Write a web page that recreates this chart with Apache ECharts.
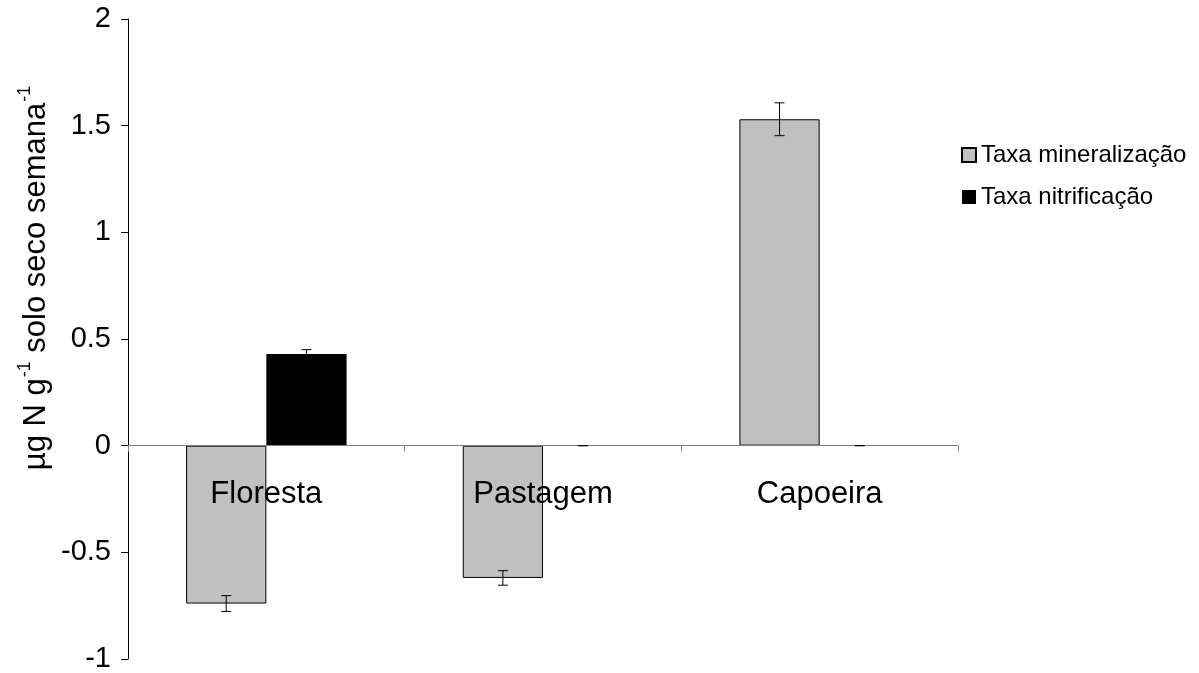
<!DOCTYPE html>
<html>
<head>
<meta charset="utf-8">
<script src="https://cdn.jsdelivr.net/npm/echarts@6/dist/echarts.min.js"></script>
<style>
  html, body { margin: 0; padding: 0; background: #fff; }
  #chart { width: 1199px; height: 673px; }
</style>
</head>
<body>
<div id="chart"></div>
<script>
// Land-use categories
const categories = ['Floresta', 'Pastagem', 'Capoeira'];

// Net mineralization rate (µg N g-1 dry soil week-1) and standard error
const mineralizacao = [-0.74, -0.62, 1.53];
const mineralizacaoErr = [0.037, 0.034, 0.077];

// Net nitrification rate and standard error
const nitrificacao = [0.43, 0, 0];
const nitrificacaoErr = [0.02, 0, 0];

const seriesNames = ['Taxa mineralização', 'Taxa nitrificação'];

const FONT = '"Liberation Sans", Arial, sans-serif';
const CAT_GAP = 0.42;   // fraction of a category left empty

const Y_MIN = -1, Y_MAX = 2;
const GRID = { left: 128, right: 241, top: 19, bottom: 14 };
const PLOT_H = 673 - GRID.top - GRID.bottom;
// the category axis sits on the zero line
const X_AXIS_OFFSET = -PLOT_H * (0 - Y_MIN) / (Y_MAX - Y_MIN);

// Error bars: data rows are [categoryIndex, value, error, groupIndex]
function errorRows(values, errs, group) {
  return values.map((v, i) => [i, v, errs[i], group]);
}

function renderError(params, api) {
  const idx = api.value(0);
  const val = api.value(1);
  const err = api.value(2);
  const group = api.value(3);
  const catW = api.size([1, 0])[0];
  const barW = catW * (1 - CAT_GAP) / 2;
  const center = api.coord([idx, val]);
  const x = center[0] + (group === 0 ? -barW / 2 : barW / 2);
  const top = api.coord([idx, val + err])[1];
  const bot = api.coord([idx, val - err])[1];
  const cap = 5;
  const style = { stroke: '#000', lineWidth: 1 };
  return {
    type: 'group',
    children: [
      { type: 'line', shape: { x1: x, y1: top, x2: x, y2: bot }, style },
      { type: 'line', shape: { x1: x - cap, y1: top, x2: x + cap, y2: top }, style },
      { type: 'line', shape: { x1: x - cap, y1: bot, x2: x + cap, y2: bot }, style }
    ]
  };
}

const chart = echarts.init(document.getElementById('chart'), null, { renderer: 'canvas' });

chart.setOption({
  animation: false,
  backgroundColor: '#ffffff',
  textStyle: { fontFamily: FONT, color: '#000' },
  grid: {
    left: GRID.left, right: GRID.right, top: GRID.top, bottom: GRID.bottom,
    containLabel: false, outerBoundsMode: 'none'
  },
  legend: {
    orient: 'vertical',
    left: 956,
    top: 138,
    itemWidth: 14,
    itemHeight: 14,
    itemGap: 18,
    icon: 'rect',
    data: seriesNames,
    textStyle: { fontFamily: FONT, fontSize: 24, color: '#000' }
  },
  graphic: [{
    type: 'text',
    x: 34,
    y: 278,
    rotation: Math.PI / 2,
    style: {
      text: '{a|µg N g}{s|-1}{a| solo seco semana}{s|-1}',
      align: 'center',
      verticalAlign: 'middle',
      rich: {
        a: { fontFamily: FONT, fontSize: 31, fill: '#000', lineHeight: 36, verticalAlign: 'bottom' },
        s: { fontFamily: FONT, fontSize: 18, fill: '#000', lineHeight: 36, verticalAlign: 'top', padding: [0, 0, 0, 1] }
      }
    }
  }],
  xAxis: {
    type: 'category',
    data: categories,
    offset: X_AXIS_OFFSET,
    z: 5,
    axisLine: { onZero: false, lineStyle: { color: '#808080', width: 1 } },
    axisTick: { show: true, alignWithLabel: false, length: 6, lineStyle: { color: '#808080' } },
    axisLabel: { fontFamily: FONT, fontSize: 31, color: '#000', margin: 33 },
    splitLine: { show: false }
  },
  yAxis: {
    type: 'value',
    min: Y_MIN,
    max: Y_MAX,
    interval: 0.5,
    axisLine: { show: true, onZero: false, lineStyle: { color: '#000', width: 1 } },
    axisTick: { show: true, inside: false, length: 7, lineStyle: { color: '#000' } },
    axisLabel: { fontFamily: FONT, fontSize: 29, color: '#000', margin: 17 },
    splitLine: { show: false }
  },
  series: [
    {
      name: seriesNames[0],
      type: 'bar',
      data: mineralizacao,
      barGap: '0%',
      barCategoryGap: (CAT_GAP * 100) + '%',
      itemStyle: { color: '#c0c0c0', borderColor: '#000', borderWidth: 1 }
    },
    {
      name: seriesNames[1],
      type: 'bar',
      data: nitrificacao,
      barGap: '0%',
      barCategoryGap: (CAT_GAP * 100) + '%',
      itemStyle: { color: '#000', borderWidth: 0 }
    },
    {
      type: 'custom',
      renderItem: renderError,
      data: errorRows(mineralizacao, mineralizacaoErr, 0).concat(errorRows(nitrificacao, nitrificacaoErr, 1)),
      encode: { x: 0, y: 1 },
      z: 10,
      silent: true
    }
  ]
});
</script>
</body>
</html>
